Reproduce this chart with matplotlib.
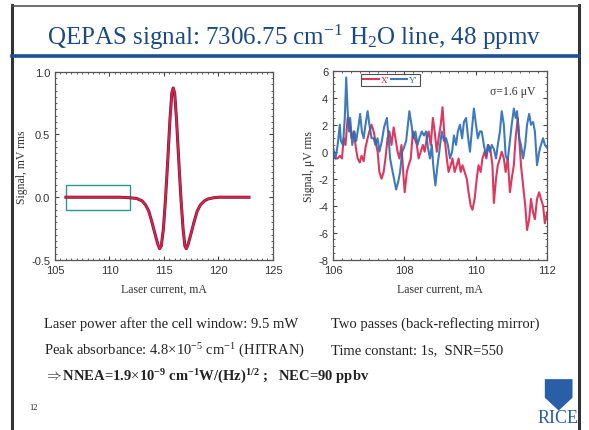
import numpy as np
import matplotlib.pyplot as plt
from matplotlib.patches import Rectangle, Polygon
from matplotlib.lines import Line2D
from matplotlib.ticker import MultipleLocator

plt.rcParams['mathtext.fontset'] = 'custom'
plt.rcParams['mathtext.rm'] = 'Liberation Serif'
plt.rcParams['mathtext.it'] = 'Liberation Serif:italic'
plt.rcParams['mathtext.bf'] = 'Liberation Serif:bold'
plt.rcParams['axes.unicode_minus'] = False

# left panel: 2f line shape of the H2O line
line_current = [106.0, 108.0, 110.0, 111.0, 112.0, 112.5, 113.0, 113.3, 113.6, 113.9,
                114.2, 114.45, 114.6, 114.75, 114.95, 115.15, 115.35, 115.55, 115.72, 115.85,
                115.98, 116.15, 116.35, 116.55, 116.75, 116.92, 117.05, 117.2, 117.45, 117.75,
                118.05, 118.35, 118.7, 119.0, 119.5, 120.0, 122.8]
line_signal = [0.0, 0.0, 0.0, 0.0, -0.005, -0.01, -0.03, -0.06, -0.11, -0.2,
               -0.3, -0.38, -0.41, -0.39, -0.25, 0.0, 0.3, 0.62, 0.83, 0.87,
               0.83, 0.62, 0.3, 0.0, -0.25, -0.39, -0.41, -0.38, -0.3, -0.2,
               -0.11, -0.06, -0.03, -0.015, -0.005, 0.0, 0.0]

# right panel: zoom on the noise (X and Y channels)
y_current = [106.00, 106.07, 106.13, 106.19, 106.22, 106.28, 106.33, 106.37, 106.41, 106.45,
             106.48, 106.54, 106.60, 106.65, 106.72, 106.76, 106.81, 106.86, 106.91, 106.97,
             107.02, 107.08, 107.14, 107.19, 107.25, 107.30, 107.37, 107.43, 107.51, 107.56,
             107.60, 107.65, 107.71, 107.77, 107.83, 107.88, 107.94, 107.99, 108.05, 108.10,
             108.14, 108.20, 108.25, 108.31, 108.37, 108.42, 108.49, 108.55, 108.61, 108.66,
             108.72, 108.77, 108.81, 108.87, 108.93, 108.98, 109.05, 109.11, 109.17, 109.22,
             109.28, 109.34, 109.39, 109.45, 109.50, 109.56, 109.62, 109.67, 109.73, 109.79,
             109.84, 109.89, 109.95, 110.01, 110.06, 110.12, 110.17, 110.23, 110.29, 110.34,
             110.40, 110.45, 110.51, 110.57, 110.62, 110.68, 110.73, 110.79, 110.84, 110.90,
             110.96, 111.01, 111.07, 111.12, 111.16, 111.22, 111.27, 111.33, 111.39, 111.44,
             111.50, 111.55, 111.61, 111.66, 111.72, 111.78, 111.83, 111.89, 111.94, 112.00]
y_signal = [0.3, -0.5, 0.5, 2.0, 0.8, 0.5, 2.5, 5.5, 3.0, 1.5,
            2.5, 0.5, 1.5, 0.8, 2.0, 2.8, 1.5, 1.0, 2.0, 3.0,
            2.0, 1.0, 1.0, 0.5, 1.0, 0.0, 0.8, 1.8, 2.5, 1.0,
            -0.5, -1.2, -2.0, -2.8, -2.2, -1.5, 0.0, 0.3, 0.8, 2.0,
            3.0, 2.0, 1.0, 1.5, 0.5, 1.0, 1.5, 1.2, 1.5, 0.3,
            -0.5, 0.5, -1.0, -2.5, -1.0, 0.0, 1.5, 0.8, 1.0, 0.5,
            -0.5, 0.0, 1.2, 0.5, 1.5, 2.0, 1.0, 2.2, 2.5, 1.0,
            0.0, 1.5, 3.2, 2.0, 1.0, 1.5, 1.5, 0.5, -0.3, 0.5,
            0.0, 0.5, 0.2, -0.5, 0.5, 1.5, 3.0, 2.0, -0.3, -0.6,
            0.8, 2.0, 3.2, 2.5, 3.0, 1.0, 0.5, -0.5, 0.5, 2.0,
            2.8, 2.0, 2.2, 1.5, -1.0, 0.0, 0.5, 1.0, 0.5, 0.3]

x_current = [106.00, 106.07, 106.13, 106.19, 106.25, 106.30, 106.35, 106.41, 106.47, 106.52,
             106.58, 106.63, 106.69, 106.75, 106.80, 106.86, 106.91, 106.97, 107.02, 107.08,
             107.14, 107.19, 107.25, 107.30, 107.36, 107.42, 107.47, 107.53, 107.58, 107.64,
             107.70, 107.75, 107.81, 107.86, 107.92, 107.98, 108.01, 108.07, 108.12, 108.18,
             108.24, 108.29, 108.35, 108.40, 108.46, 108.52, 108.57, 108.63, 108.68, 108.74,
             108.80, 108.85, 108.91, 108.96, 109.02, 109.07, 109.13, 109.19, 109.24, 109.30,
             109.35, 109.41, 109.47, 109.52, 109.58, 109.63, 109.69, 109.75, 109.80, 109.86,
             109.91, 109.97, 110.03, 110.08, 110.14, 110.19, 110.25, 110.30, 110.36, 110.42,
             110.47, 110.51, 110.57, 110.62, 110.68, 110.73, 110.79, 110.84, 110.90, 110.96,
             111.01, 111.07, 111.12, 111.18, 111.22, 111.27, 111.33, 111.39, 111.44, 111.50,
             111.55, 111.61, 111.66, 111.72, 111.78, 111.83, 111.89, 111.94, 112.00]
x_signal = [-0.3, -0.5, -0.5, -0.3, -0.5, 1.0, 0.5, 2.5, 2.0, 1.0,
            1.5, 0.5, -0.5, -0.8, -0.3, -0.7, 0.3, 1.0, 1.5, 2.0,
            1.5, 0.8, 0.0, -1.5, -2.0, -1.5, -0.5, 1.0, 1.5, 0.5,
            1.8, 1.0, 0.0, -0.5, 0.5, -2.0, -3.0, -1.5, -1.0, -0.5,
            1.5, 1.0, 0.5, -0.5, 0.0, 0.5, 0.0, 1.0, 1.5, 0.5,
            2.5, 1.5, 0.0, 1.0, 2.0, 3.3, 1.0, -0.5, -1.5, -1.0,
            -0.5, -1.5, -1.0, -0.5, -1.5, -1.0, -1.5, -2.0, -3.0, -4.0,
            -4.3, -3.5, -2.0, -1.0, -1.5, -0.5, 0.0, -0.5, 0.5, 0.0,
            -1.0, -3.8, -2.0, -1.0, -0.5, 0.0, -0.5, -1.5, -0.5, -3.0,
            -2.0, -1.0, 1.0, 2.5, 1.0, -1.0, -2.5, -4.0, -5.8, -5.0,
            -3.5, -4.5, -5.0, -3.5, -3.0, -3.5, -4.0, -5.3, -4.5]

red = '#d8234f'
blue = '#2a6cb4'
title_blue = '#1a4a80'
serif = ['Liberation Serif', 'DejaVu Serif']
sans = 'Liberation Sans'

fig = plt.figure(figsize=(5.89, 4.31), dpi=100)

# slide decoration
fig.add_artist(Line2D([0.021, 0.021], [0.0, 0.985], color='#333333', lw=2.2))
fig.add_artist(Line2D([0.983, 0.983], [0.0, 0.985], color='#333333', lw=2.2))
fig.add_artist(Line2D([0.021, 0.983], [0.984, 0.984], color='#555555', lw=1.2))
fig.add_artist(Line2D([0.021, 0.983], [0.868, 0.868], color='#1d4f91', lw=2.6))
fig.text(0.5, 0.914, r'QEPAS signal: 7306.75 cm$\mathregular{^{-1}}$ H$\mathregular{_2}$O line, 48 ppmv',
         ha='center', va='center', fontsize=18, color=title_blue, family=serif)


def style_axes(ax):
    for s in ax.spines.values():
        s.set_color('#555555')
        s.set_linewidth(0.9)
    ax.tick_params(which='both', direction='in', top=True, right=True, colors='#444444',
                   labelsize=8, labelcolor='#333333')
    ax.tick_params(which='major', length=3)
    ax.tick_params(which='minor', length=1.5)
    for lab in ax.get_xticklabels() + ax.get_yticklabels():
        lab.set_family(sans)


# left panel
ax1 = fig.add_axes([0.0934, 0.3944, 0.370, 0.437])
ax1.plot(line_current, line_signal, color='#7a1838', lw=2.2)
ax1.plot(line_current, line_signal, color=red, lw=1.3)
ax1.add_patch(Rectangle((106, -0.1), 5.9, 0.2, fill=False, edgecolor='#2a9a8a', lw=1.0))
ax1.set_xlim(105, 125)
ax1.set_ylim(-0.5, 1.0)
ax1.xaxis.set_major_locator(MultipleLocator(5))
ax1.xaxis.set_minor_locator(MultipleLocator(0.5))
ax1.yaxis.set_major_locator(MultipleLocator(0.5))
ax1.yaxis.set_minor_locator(MultipleLocator(0.05))
ax1.set_yticks([-0.5, 0.0, 0.5, 1.0])
ax1.set_yticklabels(['-0.5', '0.0', '0.5', '1.0'])
style_axes(ax1)
ax1.set_xlabel('Laser current, mA', family=serif, fontsize=8.5, color='#333333', labelpad=6)
ax1.set_ylabel('Signal, mV rms', family=serif, fontsize=8.5, color='#333333', labelpad=2)

# right panel
ax2 = fig.add_axes([0.5654, 0.3951, 0.3633, 0.4385])
ax2.plot(x_current, x_signal, color=red, lw=1.5, alpha=0.9, label="X'")
ax2.plot(y_current, y_signal, color=blue, lw=1.5, alpha=0.9, label="Y'")
ax2.set_xlim(106, 112)
ax2.set_ylim(-8, 6)
ax2.xaxis.set_major_locator(MultipleLocator(2))
ax2.xaxis.set_minor_locator(MultipleLocator(0.25))
ax2.yaxis.set_major_locator(MultipleLocator(2))
ax2.yaxis.set_minor_locator(MultipleLocator(0.5))
style_axes(ax2)
ax2.set_xlabel('Laser current, mA', family=serif, fontsize=8.5, color='#333333', labelpad=6)
ax2.set_ylabel('Signal, \u03bcV rms', family=serif, fontsize=8.5, color='#333333', labelpad=2)
leg = ax2.legend(loc='upper left', bbox_to_anchor=(0.13, 0.985), ncol=2, fontsize=6.5,
                 frameon=True, fancybox=False, handlelength=1.8, handletextpad=0.2,
                 columnspacing=0.2, borderpad=0.25, borderaxespad=0)
leg.get_frame().set_edgecolor('#222222')
leg.get_frame().set_linewidth(0.8)
for t, c in zip(leg.get_texts(), [red, blue]):
    t.set_color(c)
    t.set_family(serif)
ax2.text(0.84, 0.895, '\u03c3=1.6 \u03bcV', transform=ax2.transAxes, ha='center', va='center',
         family=serif, fontsize=8.5, color='#333333')

# notes under the plots
fs = 10.5
fig.text(0.075, 0.248, 'Laser power after the cell window: 9.5 mW', family=serif, fontsize=fs,
         color='#222222', va='center')
fig.text(0.562, 0.248, 'Two passes (back-reflecting mirror)', family=serif, fontsize=fs,
         color='#222222', va='center')
fig.text(0.075, 0.186, r'Peak absorbance: 4.8$\times$10$\mathregular{^{-5}}$ cm$\mathregular{^{-1}}$ (HITRAN)',
         family=serif, fontsize=fs, color='#222222', va='center')
fig.text(0.562, 0.186, 'Time constant: 1s,  SNR=550', family=serif, fontsize=fs,
         color='#222222', va='center')
fig.text(0.075, 0.126, r'$\Rightarrow$NNEA=1.9$\times$10$\mathbf{^{-9}}$ cm$\mathbf{^{-1}}$W/(Hz)$\mathbf{^{1/2}}$ ;   NEC=90 ppbv',
         family=serif, fontsize=fs, fontweight='bold', color='#222222', va='center')
fig.text(0.05, 0.053, '12', family=serif, fontsize=6, color='#222222', va='center')

# RICE logo
fig.add_artist(Polygon([[0.925, 0.118], [0.972, 0.118], [0.972, 0.075], [0.9485, 0.045],
                        [0.925, 0.075]], closed=True, transform=fig.transFigure,
                       facecolor='#2a5fa8', edgecolor='none'))
fig.text(0.947, 0.028, 'RICE', family=serif, fontsize=13, color='#2a5fa8',
         ha='center', va='center')

fig.savefig('out.png', dpi=100)
